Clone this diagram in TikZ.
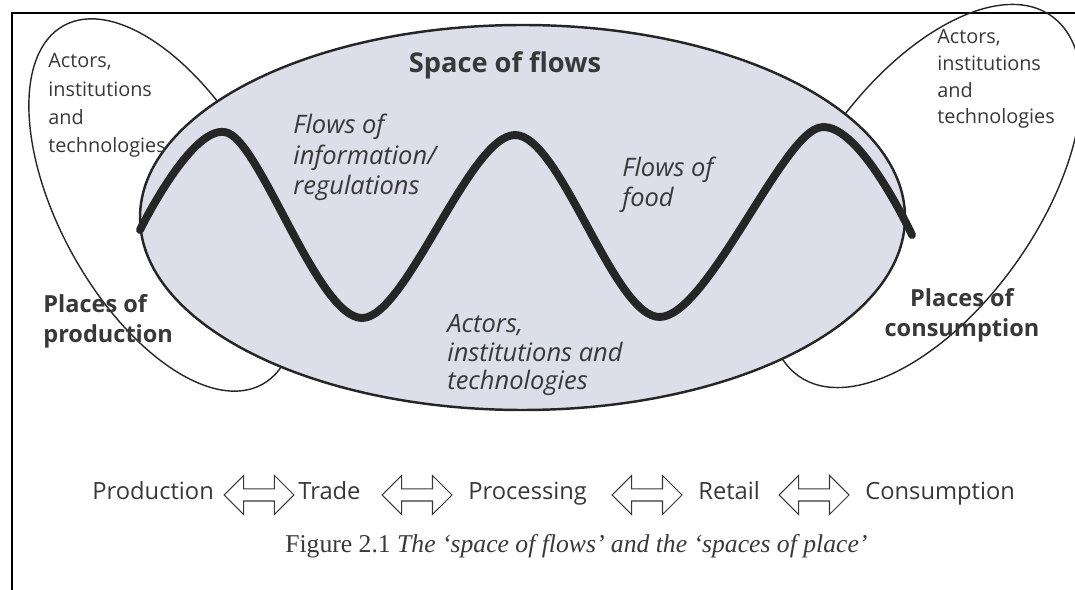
\documentclass[tikz,border=0pt]{standalone}
\usepackage{fontspec}
\setsansfont{Open Sans}
\setmainfont{Liberation Serif}
\usetikzlibrary{shapes.arrows}

\definecolor{ink}{HTML}{383838}
\definecolor{flowfill}{HTML}{DCDFEA}
\definecolor{rim}{HTML}{262626}

\begin{document}
\begin{tikzpicture}[x=0.02cm, y=-0.02cm,
    small/.style={font=\sffamily\fontsize{11.3}{16.2}\selectfont, text=ink, align=left, inner sep=0, anchor=base west},
    flowtxt/.style={font=\sffamily\itshape\fontsize{14.5}{17.5}\selectfont, text=ink, align=left, inner sep=0, anchor=base west},
    place/.style={font=\sffamily\bfseries\fontsize{13.4}{17.3}\selectfont, text=ink, inner sep=0},
    chain/.style={font=\sffamily\fontsize{13.5}{16}\selectfont, text=ink, inner sep=0, anchor=base west},
    dblarr/.style={shape=double arrow, draw=ink, line width=0.6pt, minimum height=1.4cm, minimum width=0.76cm, double arrow head extend=0.27cm, inner sep=0.11cm},
    wave/.style={line width=4.5pt, draw=rim, line cap=round, line join=round}
  ]
  \useasboundingbox (0,0) rectangle (1075,590);
  % edge of the scanned page
  \draw[line width=1.2pt] (12,590) -- (12,13) -- (1075,13);

  % places of production / consumption
  \draw[rim, line width=0.8pt, rotate around={-61:(163,205)}] (163,205) ellipse (205 and 103);
  \draw[rim, line width=0.8pt, rotate around={55:(925,196)}] (925,196) ellipse (220 and 113);

  % space of flows
  \draw[rim, line width=1.4pt, fill=flowfill] (522.5,217.5) ellipse (382.5 and 192.5);
  \draw[wave] plot[smooth, tension=0.55] coordinates {(140,230) (228,133) (362,318) (515,135) (660,317) (818,128) (912,235)};

  % texts (anchored at the baseline of their last line)
  \node[font=\sffamily\bfseries\fontsize{15.5}{18}\selectfont, text=ink, inner sep=0, anchor=base] (title) at (505,73) {Space of flows};
  \node[small] (leftatt) at (48,153) {Actors,\\institutions\\and\\technologies};
  \node[small, font=\sffamily\fontsize{11.3}{15.3}\selectfont] (rightatt) at (937,124) {Actors,\\institutions\\and\\technologies};
  \node[flowtxt] (info) at (293,195) {Flows of\\information/\\regulations};
  \node[flowtxt] (food) at (622,207) {Flows of\\food};
  \node[flowtxt, font=\sffamily\itshape\fontsize{14.5}{16.5}\selectfont] (midatt) at (447,390) {Actors,\\institutions and\\technologies};
  \node[place, align=left, anchor=base west] (prod) at (43,343) {Places of\\production};
  \node[place, align=center, anchor=base] (cons) at (962,337) {Places of\\consumption};

  % supply chain
  \node[chain] (production) at (92,500) {Production};
  \node[dblarr] (a1) at (259,495) {};
  \node[chain] (trade) at (298,500) {Trade};
  \node[dblarr] (a2) at (417,495) {};
  \node[chain] (processing) at (468,500) {Processing};
  \node[dblarr] (a3) at (647,495) {};
  \node[chain] (retail) at (698,500) {Retail};
  \node[dblarr] (a4) at (814,495) {};
  \node[chain] (consumption) at (865,500) {Consumption};

  \node[font=\fontsize{14.6}{17}\selectfont, text=ink, inner sep=0, anchor=base west] (caption) at (285,553) {Figure 2.1 \textit{The `space of flows' and the `spaces of place'}};
\end{tikzpicture}
\end{document}
